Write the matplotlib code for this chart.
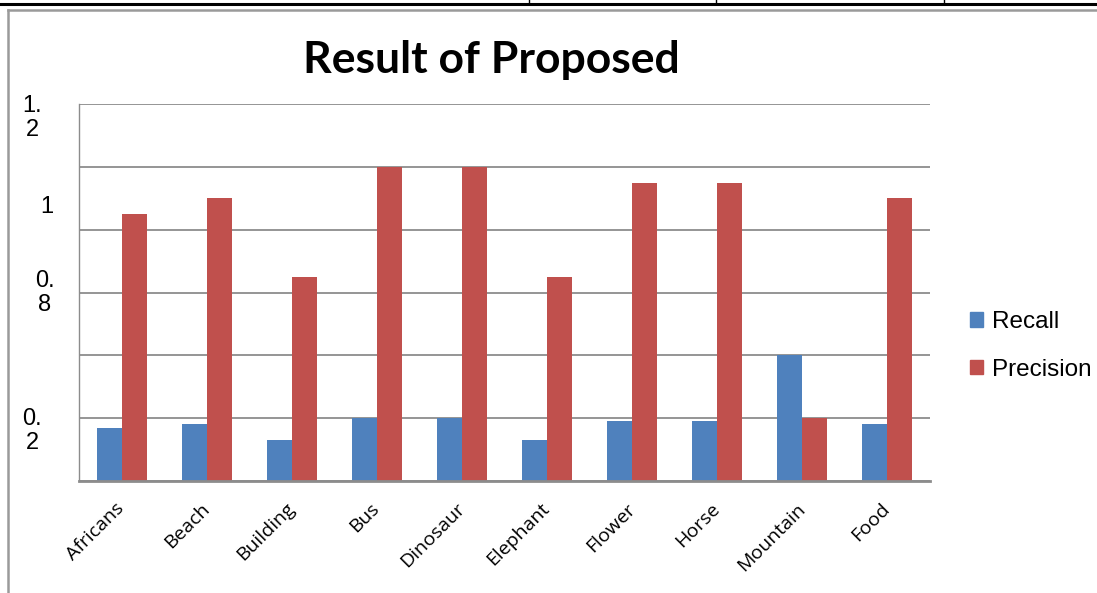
import matplotlib
matplotlib.use("Agg")
import matplotlib.pyplot as plt
from matplotlib.lines import Line2D
from matplotlib.patches import Patch
import numpy as np

categories = ["Africans", "Beach", "Building", "Bus", "Dinosaur",
              "Elephant", "Flower", "Horse", "Mountain", "Food"]
recall = [0.17, 0.18, 0.13, 0.20, 0.20, 0.13, 0.19, 0.19, 0.40, 0.18]
precision = [0.85, 0.90, 0.65, 1.00, 1.00, 0.65, 0.95, 0.95, 0.20, 0.90]
series_names = ["Recall", "Precision"]
ytick_labels = ["1.\n2", "1", "0.\n8", "0.\n2"]

W, H = 1097, 593
fig = plt.figure(figsize=(W / 100, H / 100), dpi=100)
fig.patch.set_facecolor("white")

def fx(px):
    return px / W

def fy(py):
    return 1 - py / H

# page decorations: table line at top and chart border
fig.add_artist(Line2D([0, 1], [fy(4), fy(4)], color="black", lw=2.2, transform=fig.transFigure))
for xv in [529, 716, 944]:
    fig.add_artist(Line2D([fx(xv), fx(xv)], [fy(0), fy(4)], color="black", lw=1.0, transform=fig.transFigure))
fig.add_artist(Line2D([fx(8), 1], [fy(10), fy(10)], color="#9a9a9a", lw=1.8, transform=fig.transFigure))
fig.add_artist(Line2D([fx(8), fx(8)], [fy(10), 0], color="#9a9a9a", lw=1.8, transform=fig.transFigure))

left, right, top, bottom = 79, 930, 104, 481
ax = fig.add_axes([fx(left), fy(bottom), fx(right) - fx(left), fy(top) - fy(bottom)])

x = np.arange(len(categories))
bw = 0.294
blue = "#4f81bd"
red = "#c0504d"
ax.bar(x - bw / 2, recall, bw, color=blue, zorder=3)
ax.bar(x + bw / 2, precision, bw, color=red, zorder=3)

ax.set_xlim(-0.5, len(categories) - 0.5)
ax.set_ylim(0, 1.2)
ax.set_yticks(np.arange(0, 1.21, 0.2))
ax.yaxis.grid(True, color="#8c8c8c", lw=1.3, zorder=1)
ax.tick_params(axis="y", length=0, labelleft=False)
ax.set_xticks(x)
ax.set_xticklabels(categories, rotation=45, ha="right", va="center",
                   rotation_mode="anchor", fontsize=14, family="Open Sans")
ax.tick_params(axis="x", length=0, pad=18)
for s in ["top", "right"]:
    ax.spines[s].set_visible(False)
ax.spines["left"].set_color("#8c8c8c")
ax.spines["left"].set_linewidth(1.0)
ax.spines["bottom"].set_color("#8c8c8c")
ax.spines["bottom"].set_linewidth(2.0)
ax.spines["bottom"].set_zorder(4)

# y tick labels as drawn in the reference (wrapped, shifted)
label_pos = [(32, 118), (47, 207), (45, 293), (32, 431)]
for lab, (px, py) in zip(ytick_labels, label_pos):
    fig.text(fx(px), fy(py), lab, ha="center", va="center", fontsize=17,
             family="Liberation Sans", linespacing=1.15)

fig.text(fx(491), fy(60), "Result of Proposed", ha="center", va="center",
         fontsize=32, fontweight="bold", family="Lato")

handles = [Patch(color=blue), Patch(color=red)]
fig.legend(handles, series_names, loc="upper left",
           bbox_to_anchor=(fx(970), fy(311)), frameon=False,
           prop={"family": "Liberation Sans", "size": 17.5},
           handlelength=0.55, handleheight=0.55, handletextpad=0.35,
           labelspacing=1.05, borderaxespad=0, borderpad=0)

fig.savefig("out.png", dpi=100, facecolor="white")
